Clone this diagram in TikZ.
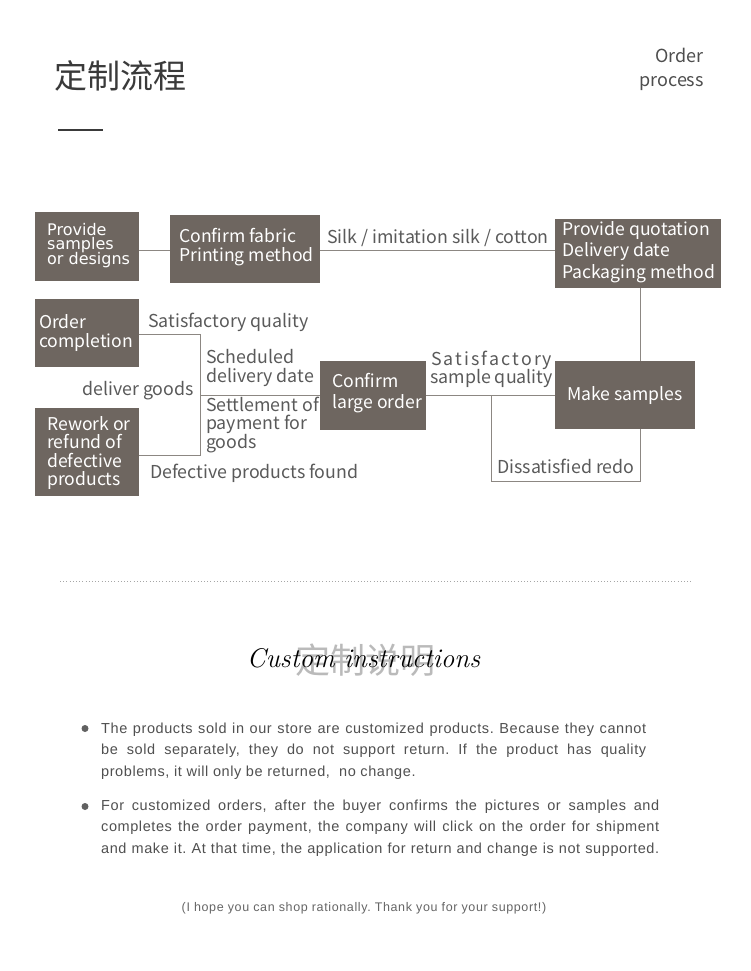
\documentclass[tikz,border=0pt]{standalone}
\usepackage{fontspec}
\newfontfamily\cjk{Noto Sans CJK SC}
\newfontfamily\dvs{DejaVu Sans}
\newfontfamily\arialf[LetterSpace=4]{Liberation Sans}
\newfontfamily\footf[LetterSpace=5]{Liberation Sans}
\definecolor{boxc}{HTML}{6E6660}
\definecolor{linec}{HTML}{8C8782}
\definecolor{labc}{HTML}{5A5A5A}
\definecolor{bodyc}{HTML}{505050}
\definecolor{titc}{HTML}{3A3A3A}
\frenchspacing
\begin{document}
\begin{tikzpicture}[x=1pt,y=-1pt,
  boxs/.style={fill=boxc, draw=none, inner sep=0pt, outer sep=0pt},
  intext/.style={text=white, font=\cjk\fontsize{17.6}{19}\selectfont, anchor=base west, inner sep=0pt},
  pstext/.style={text=white, font=\dvs\fontsize{16}{16}\selectfont, anchor=base west, inner sep=0pt},
  lab/.style={text=labc, font=\cjk\fontsize{17.8}{19}\selectfont, anchor=base west, inner sep=0pt},
  body/.style={text=bodyc, font=\arialf\fontsize{14.5}{16}\selectfont, anchor=base west, inner sep=0pt},
  conn/.style={draw=linec, line width=1pt},
  bul/.style={circle, fill=bodyc!90, inner sep=0pt, minimum size=7pt}
]
\fill[white] (0,0) rectangle (750,971);
\useasboundingbox (0,0) rectangle (750,971);

% header
\node[anchor=base west, inner sep=0pt, text=titc, font=\cjk\fontsize{33}{36}\selectfont] (title) at (54,88.5) {定制流程};
\node[anchor=base east, inner sep=0pt, text=titc!90, font=\cjk\fontsize{18}{20}\selectfont] (op1) at (704,63) {Order};
\node[anchor=base east, inner sep=0pt, text=titc!90, font=\cjk\fontsize{18}{20}\selectfont] (op2) at (704,87) {process};
\coordinate (bar1) at (58,130);
\coordinate (bar2) at (103,130);
\draw[titc, line width=2pt] (bar1) -- (bar2);

% boxes
\node[boxs, minimum width=104pt, minimum height=69pt] (ps) at (87,246.5) {};
\node[boxs, minimum width=150pt, minimum height=68pt] (cf) at (245,249) {};
\node[boxs, minimum width=166pt, minimum height=69pt] (pq) at (638,253.5) {};
\node[boxs, minimum width=140pt, minimum height=68pt] (ms) at (625,395) {};
\node[boxs, minimum width=106pt, minimum height=69pt] (cl) at (373,395.5) {};
\node[boxs, minimum width=104pt, minimum height=68pt] (oc) at (87,333) {};
\node[boxs, minimum width=104pt, minimum height=88pt] (rw) at (87,452) {};

% box texts
\node[pstext] (ps1) at (47,235) {Provide};
\node[pstext] (ps2) at (47,249.5) {samples};
\node[pstext] (ps3) at (47,264) {or designs};
\node[intext] (cf1) at (179,242.5) {Confirm fabric};
\node[intext] (cf2) at (179,261.5) {Printing method};
\node[intext] (pq1) at (562,235.5) {Provide quotation};
\node[intext] (pq2) at (562,256.5) {Delivery date};
\node[intext] (pq3) at (562,278) {Packaging method};
\node[intext, anchor=base] (ms1) at (ms.center |- 0,400.5) {Make samples};
\node[intext] (cl1) at (332,387) {Confirm};
\node[intext] (cl2) at (332,408) {large order};
\node[intext] (oc1) at (39,328.5) {Order};
\node[intext] (oc2) at (39,347.5) {completion};
\node[intext] (rw1) at (47,430) {Rework or};
\node[intext] (rw2) at (47,448.5) {refund of};
\node[intext] (rw3) at (47,467) {defective};
\node[intext] (rw4) at (47,485.5) {products};

% connectors
\draw[conn] (ps.east |- 0,250) -- (cf.west |- 0,250);
\draw[conn] (cf.east |- 0,250) -- (pq.west |- 0,250);
\coordinate (pqd) at (640,288);
\draw[conn] (pqd) -- (ms.north -| pqd);
\draw[conn] (ms.west) -- (cl.east |- ms.west);
\coordinate (rd1) at (491,395);
\coordinate (rd2) at (491,481);
\coordinate (rd3) at (640,481);
\draw[conn] (rd1) -- (rd2) -- (rd3) -- (ms.south -| rd3);
\coordinate (jn) at (200,395);
\coordinate (jt) at (200,334);
\coordinate (jb) at (200,455);
\draw[conn] (cl.west |- jn) -- (jn);
\draw[conn] (oc.east |- jt) -- (jt) -- (jb) -- (rw.east |- jb);

% labels
\node[lab] (l1) at (327,243.5) {Silk / imitation silk / cotton};
\node[lab] (l2) at (148,327) {Satisfactory quality};
\node[lab] (l3) at (206,363.5) {Scheduled};
\node[lab] (l4) at (206,382.5) {delivery date};
\node[lab] (l5) at (206,411) {Settlement of};
\node[lab] (l6) at (206,429.5) {payment for};
\node[lab] (l7) at (206,448) {goods};
\node[lab] (l8) at (82,395) {deliver goods};
\node[lab] (l9) at (150,478.5) {Defective products found};
\node[lab] (l10) at (431,365) {\makebox[121pt][s]{S\hfill a\hfill t\hfill i\hfill s\hfill f\hfill a\hfill c\hfill t\hfill o\hfill r\hfill y}};
\node[lab] (l11) at (430,383.5) {sample quality};
\node[lab] (l12) at (497,473.5) {Dissatisfied redo};

% separator
\coordinate (s1) at (60,581);
\coordinate (s2) at (691,581);
\draw[black!35, line width=1pt, dash pattern=on 1pt off 2.2pt] (s1) -- (s2);

% custom instructions
\node[anchor=base, inner sep=0pt, text=black!27, font=\cjk\fontsize{35}{38}\selectfont] (ci0) at (365,673.5) {定制说明};
\node[anchor=base, inner sep=0pt, text=black, font=\itshape\fontsize{27}{30}\selectfont] (ci1) at (363.5,667) {Custom instructions};

% bullets
\node[bul] (b1) at (85,728.5) {};
\node[bul] (b2) at (85,806.5) {};
\node[body] (t11) at (101,733) {\makebox[545pt][s]{The products sold in our store are customized products. Because they cannot}};
\node[body] (t12) at (101,754.5) {\makebox[545pt][s]{be sold separately, they do not support return. If the product has quality}};
\node[body] (t13) at (101,776.5) {problems, it will only be returned,\ \ no change.};
\node[body] (t21) at (101,810) {\makebox[558pt][s]{For customized orders, after the buyer confirms the pictures or samples and}};
\node[body] (t22) at (101,831.5) {\makebox[558pt][s]{completes the order payment, the company will click on the order for shipment}};
\node[body] (t23) at (101,853.5) {\makebox[558pt][s]{and make it. At that time, the application for return and change is not supported.}};

\node[anchor=base, inner sep=0pt, text=black!60, font=\footf\fontsize{12.5}{14}\selectfont] (foot) at (364,911) {(I hope you can shop rationally. Thank you for your support!)};
\end{tikzpicture}
\end{document}
